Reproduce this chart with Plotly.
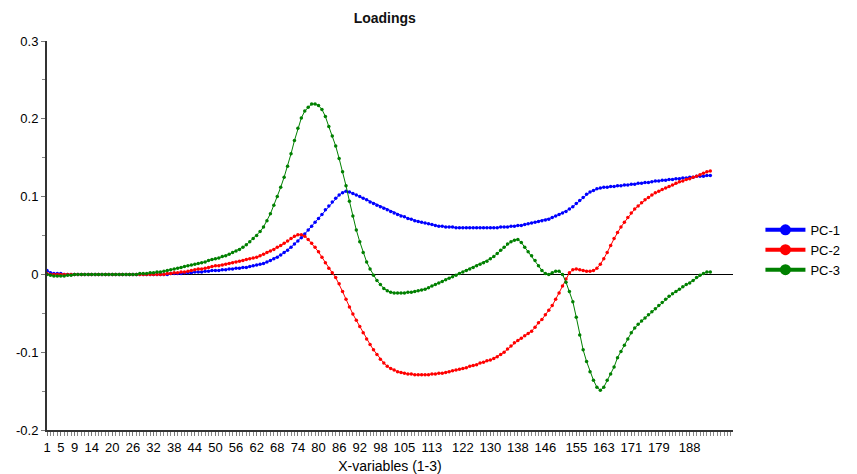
import plotly.graph_objects as go

# ---------------- data ----------------
x_index = list(range(1, 195))

pc1 = [
    0.005, 0.002, 0.001, 0.001, 0.001, 0.000, 0.000, 0.000, 0.000, 0.000,
    0.000, 0.000, 0.000, 0.000, 0.000, 0.000, 0.000, 0.000, 0.000, 0.000,
    0.000, 0.000, 0.000, 0.000, 0.000, 0.000, 0.000, 0.000, 0.000, 0.000,
    0.000, 0.000, 0.000, 0.000, 0.000, 0.000, 0.001, 0.001, 0.001, 0.001,
    0.002, 0.002, 0.002, 0.003, 0.003, 0.003, 0.004, 0.004, 0.005, 0.005,
    0.005, 0.006, 0.006, 0.007, 0.007, 0.008, 0.008, 0.009, 0.009, 0.010,
    0.011, 0.012, 0.013, 0.014, 0.016, 0.018, 0.020, 0.022, 0.025, 0.028,
    0.031, 0.035, 0.039, 0.043, 0.047, 0.052, 0.057, 0.062, 0.067, 0.072,
    0.077, 0.083, 0.088, 0.093, 0.098, 0.102, 0.105, 0.107, 0.106, 0.104,
    0.102, 0.100, 0.098, 0.096, 0.093, 0.091, 0.089, 0.087, 0.085, 0.083,
    0.081, 0.079, 0.077, 0.075, 0.074, 0.072, 0.071, 0.069, 0.068, 0.067,
    0.066, 0.065, 0.064, 0.063, 0.062, 0.062, 0.061, 0.061, 0.061, 0.060,
    0.060, 0.060, 0.060, 0.060, 0.060, 0.060, 0.060, 0.060, 0.060, 0.060,
    0.060, 0.060, 0.061, 0.061, 0.061, 0.062, 0.062, 0.063, 0.063, 0.064,
    0.065, 0.066, 0.067, 0.068, 0.069, 0.070, 0.071, 0.073, 0.075, 0.077,
    0.079, 0.081, 0.084, 0.087, 0.091, 0.095, 0.099, 0.103, 0.106, 0.108,
    0.110, 0.111, 0.112, 0.112, 0.113, 0.113, 0.114, 0.114, 0.115, 0.115,
    0.116, 0.116, 0.117, 0.117, 0.118, 0.118, 0.119, 0.120, 0.120, 0.121,
    0.121, 0.122, 0.122, 0.123, 0.123, 0.124, 0.124, 0.125, 0.125, 0.126,
    0.126, 0.126, 0.127, 0.127,
]

pc2 = [
    0.001, 0.000, 0.000, 0.000, 0.000, 0.000, 0.000, 0.000, 0.000, 0.000,
    0.000, 0.000, 0.000, 0.000, 0.000, 0.000, 0.000, 0.000, 0.000, 0.000,
    0.000, 0.000, 0.000, 0.000, 0.000, 0.000, 0.000, 0.000, 0.000, 0.000,
    0.000, 0.000, 0.000, 0.000, 0.000, 0.001, 0.001, 0.002, 0.002, 0.003,
    0.003, 0.004, 0.005, 0.006, 0.007, 0.007, 0.008, 0.009, 0.010, 0.011,
    0.011, 0.012, 0.013, 0.014, 0.015, 0.016, 0.017, 0.018, 0.019, 0.020,
    0.021, 0.022, 0.024, 0.026, 0.028, 0.030, 0.032, 0.035, 0.037, 0.040,
    0.043, 0.046, 0.049, 0.051, 0.051, 0.049, 0.045, 0.040, 0.035, 0.029,
    0.022, 0.015, 0.008, 0.002, -0.004, -0.012, -0.022, -0.032, -0.042, -0.051,
    -0.059, -0.067, -0.075, -0.083, -0.090, -0.097, -0.103, -0.109, -0.114, -0.118,
    -0.121, -0.123, -0.125, -0.126, -0.127, -0.128, -0.128, -0.129, -0.129, -0.129,
    -0.129, -0.129, -0.128, -0.128, -0.127, -0.127, -0.126, -0.125, -0.124, -0.123,
    -0.122, -0.121, -0.120, -0.118, -0.117, -0.116, -0.114, -0.113, -0.111, -0.110,
    -0.108, -0.106, -0.103, -0.100, -0.096, -0.092, -0.088, -0.085, -0.082, -0.079,
    -0.076, -0.073, -0.068, -0.062, -0.058, -0.052, -0.046, -0.040, -0.032, -0.024,
    -0.015, -0.006, 0.002, 0.006, 0.007, 0.006, 0.005, 0.004, 0.004, 0.005,
    0.008, 0.013, 0.020, 0.028, 0.037, 0.046, 0.054, 0.061, 0.067, 0.073,
    0.079, 0.084, 0.088, 0.092, 0.096, 0.099, 0.102, 0.105, 0.107, 0.109,
    0.111, 0.113, 0.115, 0.117, 0.119, 0.120, 0.122, 0.123, 0.125, 0.126,
    0.128, 0.130, 0.132, 0.133,
]

pc3 = [
    0.000, -0.001, -0.002, -0.002, -0.002, -0.002, -0.001, -0.001, 0.000, 0.000,
    0.000, 0.000, 0.000, 0.000, 0.000, 0.000, 0.000, 0.000, 0.000, 0.000,
    0.000, 0.000, 0.000, 0.000, 0.000, 0.000, 0.000, 0.001, 0.001, 0.001,
    0.002, 0.002, 0.003, 0.003, 0.004, 0.005, 0.006, 0.007, 0.008, 0.009,
    0.010, 0.011, 0.012, 0.013, 0.014, 0.015, 0.016, 0.018, 0.019, 0.020,
    0.021, 0.023, 0.024, 0.026, 0.028, 0.030, 0.032, 0.035, 0.038, 0.042,
    0.046, 0.050, 0.055, 0.061, 0.069, 0.078, 0.089, 0.100, 0.112, 0.125,
    0.139, 0.155, 0.172, 0.188, 0.201, 0.210, 0.215, 0.219, 0.219, 0.217,
    0.212, 0.203, 0.190, 0.178, 0.165, 0.149, 0.132, 0.114, 0.094, 0.075,
    0.057, 0.042, 0.028, 0.016, 0.007, -0.001, -0.008, -0.013, -0.018, -0.021,
    -0.023, -0.024, -0.024, -0.024, -0.024, -0.023, -0.023, -0.022, -0.021, -0.020,
    -0.019, -0.017, -0.015, -0.013, -0.011, -0.009, -0.007, -0.005, -0.003, -0.001,
    0.001, 0.003, 0.005, 0.007, 0.009, 0.011, 0.013, 0.015, 0.017, 0.020,
    0.023, 0.027, 0.031, 0.035, 0.039, 0.042, 0.044, 0.045, 0.041, 0.035,
    0.029, 0.024, 0.018, 0.011, 0.005, 0.001, 0.000, 0.002, 0.004, 0.004,
    0.000, -0.010, -0.022, -0.035, -0.055, -0.078, -0.097, -0.112, -0.125, -0.136,
    -0.145, -0.149, -0.145, -0.136, -0.128, -0.119, -0.107, -0.099, -0.091, -0.083,
    -0.075, -0.069, -0.064, -0.060, -0.056, -0.052, -0.048, -0.044, -0.040, -0.036,
    -0.032, -0.028, -0.025, -0.022, -0.019, -0.016, -0.013, -0.011, -0.008, -0.004,
    -0.001, 0.001, 0.003, 0.003,
]

series_names = ["PC-1", "PC-2", "PC-3"]
series_colors = ["#0000FF", "#FF0000", "#008000"]

x_tick_vals = [1, 5, 9, 14, 20, 26, 32, 38, 44, 50, 56, 62, 68, 74, 80, 86, 92,
               98, 105, 113, 122, 130, 138, 146, 155, 163, 171, 179, 188]
x_tick_text = [str(v) for v in x_tick_vals]
y_tick_vals = [0.3, 0.2, 0.1, 0.0, -0.1, -0.2]
y_tick_text = ["0.3", "0.2", "0.1", "0", "-0.1", "-0.2"]

# ---------------- figure ----------------
FONT = "Liberation Sans, Arial, sans-serif"
fig = go.Figure()

for name, vals, col in zip(series_names, [pc1, pc2, pc3], series_colors):
    fig.add_trace(go.Scatter(
        x=x_index, y=vals, mode="lines+markers", name=name,
        line=dict(color=col, width=1),
        marker=dict(color=col, size=3.5),
        showlegend=False, hoverinfo="x+y+name",
    ))

# legend proxies (thicker symbols as in the reference legend)
for name, col in zip(series_names, series_colors):
    fig.add_trace(go.Scatter(
        x=[None], y=[None], mode="lines+markers", name=name,
        line=dict(color=col, width=4),
        marker=dict(color=col, size=11),
        showlegend=True,
    ))

fig.update_layout(
    width=857, height=474,
    margin=dict(l=47, r=114, t=41, b=44),
    paper_bgcolor="white", plot_bgcolor="white",
    font=dict(family=FONT, size=13, color="black"),
    title=dict(text="<b>Loadings</b>", x=422 / 857, xref="paper", xanchor="center",
               y=1 - 18 / 474, yref="container", yanchor="middle",
               font=dict(size=14, family=FONT, color="#111")),
    legend=dict(x=1.040, xanchor="left", y=0.553, yanchor="top",
                font=dict(size=13, family=FONT), itemwidth=40,
                tracegroupgap=0, bgcolor="rgba(0,0,0,0)"),
    showlegend=True,
)

fig.update_xaxes(
    range=[1, 200.6], showgrid=False, zeroline=False, automargin=False,
    showline=True, linecolor="#333", linewidth=2,
    tickmode="array", tickvals=x_tick_vals, ticktext=x_tick_text,
    ticks="outside", ticklen=4, tickcolor="#777", tickwidth=1,
    minor=dict(tickmode="linear", tick0=1, dtick=1, ticks="outside",
               ticklen=4, tickcolor="#888", tickwidth=1),
    tickfont=dict(size=13, family=FONT),
    title=dict(text="X-variables (1-3)", font=dict(size=14, family=FONT)),
)

fig.update_yaxes(
    range=[-0.2, 0.3], showgrid=False, automargin=False,
    zeroline=True, zerolinecolor="black", zerolinewidth=1,
    showline=True, linecolor="#333", linewidth=2,
    tickmode="array", tickvals=y_tick_vals, ticktext=y_tick_text,
    ticks="outside", ticklen=4, tickcolor="#777", tickwidth=1,
    minor=dict(tickmode="linear", tick0=0, dtick=0.05, ticks="outside",
               ticklen=3, tickcolor="#888", tickwidth=1),
    tickfont=dict(size=13, family=FONT),
)

fig.write_html(
    "out.html",
    config={"displayModeBar": False},
    post_script="document.body.style.margin='0';document.body.style.padding='0';",
)
